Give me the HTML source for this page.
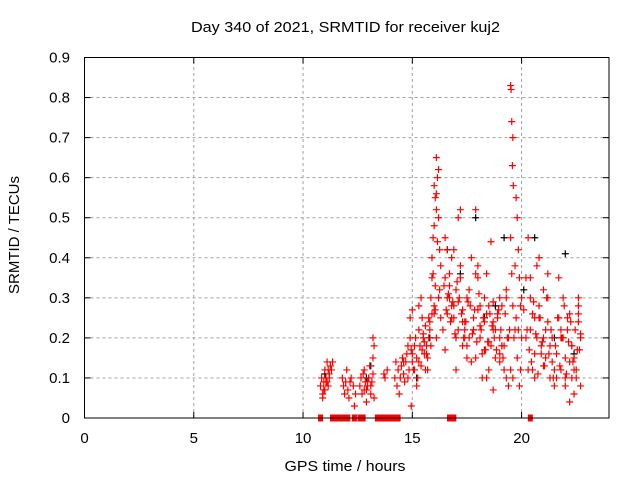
<!DOCTYPE html>
<html><head><meta charset="utf-8"><style>
body{margin:0;background:#fff;}
svg{display:block;font-family:"Liberation Sans",sans-serif;}
</style></head><body>
<svg id="chart" width="640" height="480">
<rect width="640" height="480" fill="#fff"/>
<text x="345.5" y="32" font-size="15" text-anchor="middle" textLength="309" lengthAdjust="spacingAndGlyphs">Day 340 of 2021, SRMTID for receiver kuj2</text>
<text x="345" y="471" font-size="15" text-anchor="middle" textLength="121" lengthAdjust="spacingAndGlyphs">GPS time / hours</text>
<text transform="translate(19,235) rotate(-90)" font-size="15" text-anchor="middle" textLength="118" lengthAdjust="spacingAndGlyphs">SRMTID / TECUs</text>
<g id="grid"></g><g id="ticks"></g><g id="marks"></g>
<rect x="84.5" y="57.5" width="524.5" height="360.5" fill="none" stroke="#000" stroke-width="1"/>
</svg>
<script>
const xTicks=[0,5,10,15,20];
const yTicks=[0,0.1,0.2,0.3,0.4,0.5,0.6,0.7,0.8,0.9];
const yTickLabels=["0","0.1","0.2","0.3","0.4","0.5","0.6","0.7","0.8","0.9"];
const redTimes=[10.8,10.85,10.9,10.95,11.0,11.05,11.1,11.15,11.2,11.25,10.9,11.0,11.1,11.2,11.3,11.35,
11.8,11.85,11.9,11.95,12.0,12.05,12.1,12.15,12.2,12.3,12.4,12.35,
12.6,12.65,12.7,12.75,12.8,12.85,12.9,12.95,13.0,13.05,13.1,13.15,13.2,13.25,13.2,13.25,13.2,12.9,13.0,
13.7,13.75,13.85,14.2,14.25,14.3,14.35,14.4,14.45,14.5,14.55,14.6,14.65,14.7,14.75,14.8,14.85,14.9,14.95,14.9,15.0,14.95,
15.0,15.05,15.1,15.15,15.2,15.25,15.3,15.35,15.4,15.45,15.5,15.55,15.6,15.65,15.7,15.3,15.4,15.5,15.6,15.2,15.7,15.75,15.8,
15.85,15.9,15.95,16.0,16.05,16.1,16.15,16.2,16.25,16.3,15.9,16.0,16.1,16.2,16.0,16.05,16.1,16.15,15.95,16.2,16.25,16.3,16.1,16.0,
16.4,16.5,16.6,16.7,16.8,16.9,17.0,17.1,17.2,17.3,17.4,17.5,16.5,16.6,16.7,16.8,16.9,17.0,17.1,17.2,17.3,17.4,16.5,16.7,16.9,17.1,17.3,17.5,16.6,16.8,17.0,17.2,17.4,
17.6,17.7,17.8,17.9,18.0,18.1,18.2,18.3,18.4,18.5,18.6,18.7,18.8,18.9,19.0,19.1,19.2,19.3,19.4,17.6,17.8,18.0,18.2,18.4,18.6,18.8,19.0,19.2,19.4,17.7,17.9,18.1,18.3,18.5,18.7,18.9,19.1,19.3,17.8,18.1,18.4,18.7,19.0,19.3,18.0,18.5,19.0,
19.5,19.52,19.55,19.6,19.58,19.62,19.5,19.55,19.6,19.65,19.5,19.6,19.7,19.75,19.8,19.85,19.9,19.95,20.0,19.8,19.9,20.0,19.85,19.7,19.75,19.95,
20.2,20.3,20.4,20.5,20.6,20.7,20.8,20.9,21.0,21.1,21.2,21.3,21.4,21.5,20.2,20.4,20.6,20.8,21.0,21.2,21.4,20.3,20.5,20.7,20.9,21.1,21.3,21.5,20.4,20.8,21.2,
21.6,21.7,21.8,21.9,22.0,22.1,22.2,22.3,22.4,22.5,22.6,22.7,21.6,21.8,22.0,22.2,22.4,22.6,21.7,21.9,22.1,22.3,22.5,22.7,21.8,22.2,22.6,22.0,22.4,22.65,
10.95,11.05,11.15,12.8,12.95,13.1,14.6,14.8,15.0,15.1,15.3,15.45,15.55,15.65,15.75,15.85,15.8,15.9,16.05,16.2,
16.45,16.55,16.65,16.75,16.85,16.95,17.05,17.15,17.25,17.35,17.45,17.55,17.65,17.75,17.85,17.95,18.05,18.15,18.25,18.35,18.45,18.55,18.65,18.75,18.85,18.95,19.05,19.15,19.25,19.35,
17.5,17.9,18.3,18.7,19.1,19.45,20.1,20.25,20.35,20.45,20.55,20.65,20.75,20.85,20.95,21.05,21.15,21.25,21.35,21.45,21.55,21.65,21.75,21.85,21.95,22.05,22.15,22.25,22.35,22.45,22.55,22.7,22.6,22.3,21.0,20.6];
const redValues=[0.08,0.1,0.06,0.09,0.12,0.1,0.14,0.08,0.11,0.13,0.05,0.07,0.09,0.1,0.12,0.14,
0.1,0.08,0.06,0.09,0.12,0.07,0.05,0.09,0.1,0.08,0.06,0.03,
0.08,0.1,0.06,0.11,0.12,0.09,0.07,0.08,0.1,0.13,0.06,0.09,0.2,0.18,0.15,0.05,0.11,0.04,0.1,
0.11,0.1,0.12,0.1,0.14,0.08,0.12,0.06,0.1,0.13,0.15,0.11,0.09,0.14,0.16,0.1,0.12,0.2,0.17,0.25,0.27,0.03,
0.14,0.12,0.18,0.2,0.15,0.1,0.22,0.18,0.13,0.25,0.2,0.16,0.12,0.18,0.15,0.28,0.3,0.21,0.23,0.08,0.12,0.25,0.22,
0.3,0.35,0.45,0.58,0.55,0.65,0.6,0.5,0.42,0.38,0.4,0.28,0.52,0.62,0.48,0.33,0.56,0.44,0.36,0.3,0.32,0.25,0.2,0.26,
0.22,0.35,0.42,0.3,0.28,0.25,0.2,0.5,0.38,0.18,0.22,0.15,0.45,0.26,0.33,0.4,0.28,0.32,0.22,0.52,0.27,0.2,0.17,0.36,0.42,0.29,0.24,0.18,0.3,0.25,0.12,0.35,0.24,
0.2,0.14,0.25,0.52,0.38,0.28,0.16,0.3,0.1,0.12,0.44,0.22,0.15,0.26,0.2,0.28,0.18,0.1,0.08,0.32,0.22,0.35,0.1,0.26,0.18,0.22,0.3,0.12,0.2,0.4,0.15,0.23,0.17,0.28,0.07,0.25,0.18,0.32,0.22,0.2,0.36,0.24,0.14,0.3,0.27,0.19,0.16,
0.83,0.82,0.74,0.7,0.63,0.58,0.45,0.36,0.28,0.2,0.12,0.1,0.22,0.55,0.5,0.42,0.35,0.28,0.2,0.15,0.08,0.3,0.22,0.38,0.25,0.12,
0.2,0.45,0.3,0.12,0.25,0.38,0.4,0.18,0.32,0.15,0.24,0.1,0.2,0.08,0.35,0.22,0.1,0.28,0.2,0.3,0.14,0.12,0.26,0.2,0.16,0.22,0.18,0.12,0.35,0.25,0.36,
0.1,0.25,0.2,0.3,0.15,0.22,0.04,0.18,0.12,0.1,0.28,0.2,0.16,0.12,0.08,0.26,0.15,0.3,0.35,0.2,0.25,0.18,0.12,0.08,0.22,0.14,0.24,0.1,0.06,0.17,
0.07,0.09,0.12,0.07,0.09,0.08,0.14,0.18,0.16,0.12,0.14,0.17,0.19,0.16,0.2,0.18,0.24,0.26,0.27,0.3,
0.33,0.27,0.31,0.24,0.29,0.21,0.34,0.3,0.26,0.2,0.24,0.29,0.28,0.21,0.27,0.19,0.31,0.22,0.25,0.17,0.19,0.26,0.23,0.2,0.17,0.27,0.22,0.15,0.26,0.2,
0.3,0.36,0.24,0.29,0.18,0.22,0.27,0.22,0.17,0.14,0.29,0.21,0.11,0.25,0.19,0.13,0.3,0.16,0.22,0.1,0.18,0.25,0.13,0.2,0.28,0.11,0.19,0.24,0.14,0.22,0.17,0.21,0.26,0.1,0.13,0.16];
const blackTimes=[11.0,12.9,13.1,15.2,15.8,16.6,17.2,17.9,18.3,18.8,19.2,20.1,20.6,21.5,22.0,22.4];
const blackValues=[0.11,0.1,0.13,0.1,0.2,0.42,0.36,0.5,0.25,0.28,0.45,0.32,0.45,0.2,0.41,0.16];
const zeroTimes=[10.8,11.35,11.45,11.55,11.65,11.75,11.85,11.95,12.05,12.35,12.6,12.75,13.4,13.5,13.6,13.7,13.85,13.95,14.05,14.15,14.25,14.35,16.7,16.9,20.4];

const X0=84.5,X1=609,Y0=418,Y1=57.5,XMAX=24,YMAX=0.9;
const sx=t=>X0+(X1-X0)*t/XMAX, sy=v=>Y0-(Y0-Y1)*v/YMAX;
const NS="http://www.w3.org/2000/svg";
const grid=document.getElementById('grid'),ticks=document.getElementById('ticks'),marks=document.getElementById('marks');
function mk(tag,attrs,parent){const e=document.createElementNS(NS,tag);for(const k in attrs)e.setAttribute(k,attrs[k]);parent.appendChild(e);return e;}
xTicks.forEach(t=>{const x=sx(t);
 if(t>0){const g=mk('line',{x1:x,x2:x,y1:Y0,y2:Y1,stroke:'#a0a0a0','stroke-dasharray':'3,3'},grid);
 
 }
 mk('line',{x1:x,x2:x,y1:Y0,y2:Y0-6,stroke:'#000'},ticks);
 mk('line',{x1:x,x2:x,y1:Y1,y2:Y1+6,stroke:'#000'},ticks);
 const l=mk('text',{x:x,y:443,'font-size':15,'text-anchor':'middle'},ticks);l.textContent=t;
 
 });
yTicks.forEach((v,i)=>{const y=sy(v);
 if(v>0&&v<0.9){const g=mk('line',{x1:X0,x2:X1,y1:y,y2:y,stroke:'#a0a0a0','stroke-dasharray':'3,3'},grid);
 
 }
 mk('line',{x1:X0,x2:X0+6,y1:y,y2:y,stroke:'#000'},ticks);
 mk('line',{x1:X1,x2:X1-6,y1:y,y2:y,stroke:'#000'},ticks);
 const l=mk('text',{x:70,y:y+5,'font-size':15,'text-anchor':'end'},ticks);l.textContent=yTickLabels[i];
 
 });
function plus(t,v,c,name){const x=sx(t),y=sy(v);
 const p=mk('path',{d:`M${x-3.5},${y}h7M${x},${y-3.5}v7`,stroke:c,'stroke-width':1.2,fill:'none'},marks);
 
 }
blackTimes.forEach((t,i)=>plus(t,blackValues[i],'#000','black-point'));
redTimes.forEach((t,i)=>plus(t,redValues[i],'#ff0000','red-point'));
zeroTimes.forEach(t=>{const r=mk('rect',{x:sx(t)-2.5,y:Y0-3.5,width:5,height:7,fill:'#ff0000'},marks);
 
 });
</script>
</body></html>
